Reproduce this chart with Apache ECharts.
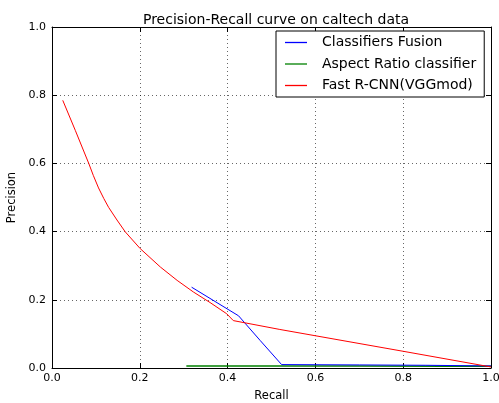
<!DOCTYPE html>
<html>
<head>
<meta charset="utf-8">
<script src="https://cdn.jsdelivr.net/npm/echarts@6/dist/echarts.min.js"></script>
<style>
  html, body { margin: 0; padding: 0; background: #fff; }
  #chart { width: 499px; height: 403px; }
</style>
</head>
<body>
<div id="chart"></div>
<script>
// Precision-recall curves on the caltech data
const fusionRecall    = [0.318, 0.425, 0.474, 0.523, 0.700, 0.850, 1.000];
const fusionPrecision = [0.237, 0.153, 0.081, 0.010, 0.009, 0.008, 0.006];

const aspectRecall    = [0.306, 0.500, 0.700, 0.900, 1.000];
const aspectPrecision = [0.006, 0.006, 0.006, 0.005, 0.005];

const fastRecall    = [0.0245, 0.053, 0.084, 0.094, 0.106, 0.118, 0.129, 0.148, 0.167, 0.201, 0.247, 0.285, 0.322, 0.360, 0.398, 0.413, 0.519, 0.800, 1.000];
const fastPrecision = [0.785, 0.697, 0.599, 0.565, 0.528, 0.497, 0.471, 0.434, 0.399, 0.350, 0.296, 0.257, 0.223, 0.192, 0.159, 0.139, 0.113, 0.049, 0.003];

const tickValues = [0.0, 0.2, 0.4, 0.6, 0.8, 1.0];

const FONT = 'DejaVu Sans';
const pairs = (xs, ys) => xs.map((x, i) => [x, ys[i]]);

const chart = echarts.init(document.getElementById('chart'), null, { renderer: 'canvas' });

const fmt = v => v.toFixed(1);
const baseAxis = {
  type: 'value',
  min: tickValues[0],
  max: tickValues[tickValues.length - 1],
  interval: 0.2,
  axisLine: { show: true, onZero: false, lineStyle: { color: '#000', width: 1 } },
  axisTick: { show: true, inside: true, length: 5, lineStyle: { color: '#000' } },
  splitLine: { show: false }
};
const gridLine = { show: true, lineStyle: { color: '#000', type: [1, 3], width: 0.6 } };
const lineIcon = 'path://M0,0 L22,0 L22,1.3 L0,1.3 Z';

chart.setOption({
  animation: false,
  backgroundColor: '#fff',
  title: {
    text: 'Precision-Recall curve on caltech data',
    left: 271, top: 8, textAlign: 'center',
    textStyle: { fontFamily: FONT, fontSize: 14, fontWeight: 'normal', color: '#000' }
  },
  grid: { left: 52, top: 27, width: 439, height: 341, outerBoundsMode: 'none', containLabel: false },
  legend: {
    orient: 'vertical',
    left: 276, top: 31,
    padding: [4, 8, 4, 9],
    itemGap: 6.5,
    itemWidth: 22, itemHeight: 1.3,
    icon: lineIcon,
    backgroundColor: '#fff',
    borderColor: '#000', borderWidth: 1, borderRadius: 0,
    textStyle: { fontFamily: FONT, fontSize: 14, lineHeight: 15, color: '#000', padding: [0, 0, 0, 10] },
    data: ['Classifiers Fusion', 'Aspect Ratio classifier', 'Fast R-CNN(VGGmod)']
  },
  xAxis: [
    Object.assign({}, baseAxis, {
      position: 'bottom',
      name: 'Recall', nameLocation: 'middle', nameGap: 22,
      nameTextStyle: { fontFamily: FONT, fontSize: 11.5, color: '#000' },
      axisLabel: { fontFamily: FONT, fontSize: 11, color: '#000', margin: 5, formatter: fmt },
      splitLine: gridLine
    }),
    Object.assign({}, baseAxis, { position: 'top', axisLabel: { show: false } })
  ],
  yAxis: [
    Object.assign({}, baseAxis, {
      position: 'left',
      name: 'Precision', nameLocation: 'middle', nameGap: 27,
      nameTextStyle: { fontFamily: FONT, fontSize: 11.5, color: '#000' },
      axisLabel: { fontFamily: FONT, fontSize: 11, color: '#000', margin: 6, formatter: fmt },
      splitLine: gridLine
    }),
    Object.assign({}, baseAxis, { position: 'right', axisLabel: { show: false } })
  ],
  series: [
    {
      name: 'Classifiers Fusion', type: 'line', symbol: 'none', z: 3,
      lineStyle: { color: '#0000ff', width: 1 }, itemStyle: { color: '#0000ff' },
      data: pairs(fusionRecall, fusionPrecision)
    },
    {
      name: 'Aspect Ratio classifier', type: 'line', symbol: 'none', z: 2,
      lineStyle: { color: '#008000', width: 1.5 }, itemStyle: { color: '#008000' },
      data: pairs(aspectRecall, aspectPrecision)
    },
    {
      name: 'Fast R-CNN(VGGmod)', type: 'line', symbol: 'none', z: 4,
      lineStyle: { color: '#ff0000', width: 1 }, itemStyle: { color: '#ff0000' },
      data: pairs(fastRecall, fastPrecision)
    }
  ]
});
</script>
</body>
</html>
